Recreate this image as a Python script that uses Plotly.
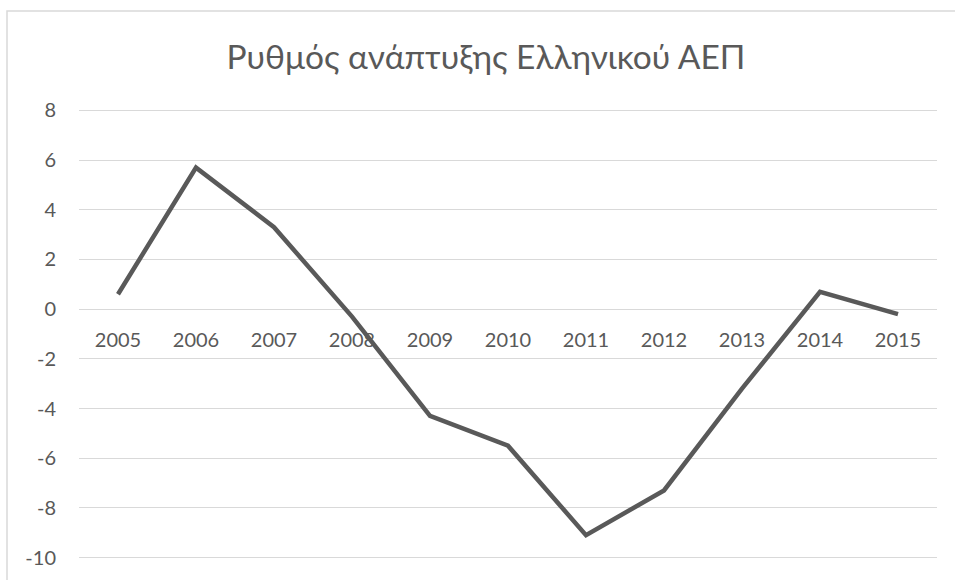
import plotly.graph_objects as go

years = ["2005", "2006", "2007", "2008", "2009", "2010", "2011", "2012", "2013", "2014", "2015"]
growth = [0.6, 5.7, 3.3, -0.3, -4.3, -5.5, -9.1, -7.3, -3.2, 0.7, -0.2]
y_ticks = [-10, -8, -6, -4, -2, 0, 2, 4, 6, 8]
y_labels = [str(v) for v in y_ticks]
title_text = "Ρυθμός ανάπτυξης Ελληνικού ΑΕΠ"

FONT = "Lato, 'Open Sans', sans-serif"
TXT = "#595959"

ml, mr, mt, mb = 79, 18, 108, 20
W, H = 955, 580
pw, ph = W - ml - mr, H - mt - mb
ylo, yhi = -10.1, 8.1

fig = go.Figure()
fig.add_trace(go.Scatter(
    x=years, y=growth, mode="lines",
    line=dict(color="#595959", width=4.5),
    hoverinfo="x+y", showlegend=False,
))

fig.update_layout(
    width=W, height=H,
    margin=dict(l=ml, r=mr, t=mt, b=mb),
    paper_bgcolor="white", plot_bgcolor="white",
    font=dict(family=FONT, color=TXT),
    title=dict(text=title_text, x=486 / W, xanchor="center",
               y=1 - 57 / H, yanchor="middle",
               font=dict(family=FONT, size=33.5, color=TXT)),
    xaxis=dict(
        type="category", anchor="free", position=(0 - ylo) / (yhi - ylo),
        showgrid=False, showline=False, zeroline=False,
        ticks="outside", ticklen=13, tickcolor="rgba(0,0,0,0)",
        tickfont=dict(family=FONT, size=20, color=TXT),
        range=[-0.5, 10.5],
    ),
    yaxis=dict(
        range=[ylo, yhi], tickvals=y_ticks, ticktext=y_labels,
        showgrid=True, gridcolor="#d9d9d9", gridwidth=1.3,
        zeroline=False, showline=False,
        ticks="outside", ticklen=18, tickcolor="rgba(0,0,0,0)",
        tickfont=dict(family=FONT, size=20, color=TXT),
    ),
    shapes=[dict(
        type="rect", xref="paper", yref="paper",
        x0=(7 - ml) / pw, x1=1.5, y0=-0.5, y1=(H - mb - 11) / ph,
        line=dict(color="#d9d9d9", width=1.5), fillcolor="rgba(0,0,0,0)",
        layer="below",
    )],
)

fig.write_html("out.html")
